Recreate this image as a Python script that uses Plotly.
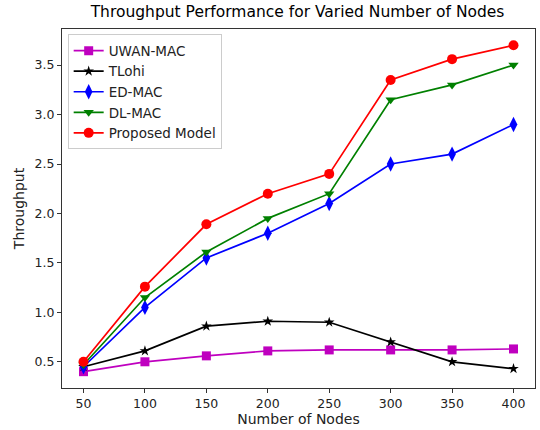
import plotly.graph_objects as go

nodes = [50, 100, 150, 200, 250, 300, 350, 400]
uwan_mac = [0.40, 0.50, 0.56, 0.61, 0.62, 0.62, 0.62, 0.63]
tlohi = [0.45, 0.61, 0.86, 0.91, 0.90, 0.70, 0.50, 0.43]
ed_mac = [0.45, 1.05, 1.55, 1.80, 2.10, 2.50, 2.60, 2.90]
dl_mac = [0.47, 1.15, 1.61, 1.95, 2.20, 3.15, 3.30, 3.50]
proposed = [0.50, 1.26, 1.89, 2.20, 2.40, 3.35, 3.56, 3.70]

series = [
    ("UWAN-MAC", uwan_mac, "#bf00bf", "square", 9),
    ("TLohi", tlohi, "black", "star", 8),
    ("ED-MAC", ed_mac, "blue", "diamond-tall", 11),
    ("DL-MAC", dl_mac, "green", "triangle-down", 9),
    ("Proposed Model", proposed, "red", "circle", 10),
]

fig = go.Figure()
for name, vals, col, sym, sz in series:
    fig.add_trace(go.Scatter(
        x=nodes, y=vals, name=name, mode="lines+markers",
        line=dict(color=col, width=1.7),
        marker=dict(symbol=sym, size=sz, color=col, line=dict(width=0)),
    ))

axfont = dict(family="DejaVu Sans", size=12.5, color="#222222")
titlefont = dict(family="DejaVu Sans", size=14, color="#222222")

fig.update_layout(
    width=540, height=430,
    margin=dict(l=62, r=5, t=29, b=42),
    paper_bgcolor="white", plot_bgcolor="white",
    font=axfont,
    title=dict(text="Throughput Performance for Varied Number of Nodes",
               x=0.551, xanchor="center", y=0.985, yanchor="top",
               font=dict(family="DejaVu Sans", size=15.5, color="black")),
    showlegend=True,
    legend=dict(x=0.012, y=0.985, xanchor="left", yanchor="top",
                bgcolor="rgba(255,255,255,0.8)", bordercolor="#cccccc",
                borderwidth=1, font=dict(family="DejaVu Sans", size=13.5, color="#222222"),
                tracegroupgap=0, itemwidth=30),
    xaxis=dict(range=[32.5, 417.5], tickvals=nodes, showgrid=False, zeroline=False,
               showline=True, linecolor="#333333", linewidth=1, mirror=True,
               ticks="outside", ticklen=4, tickcolor="#333333", tickfont=axfont,
               title=dict(text="Number of Nodes", standoff=3, font=titlefont)),
    yaxis=dict(range=[0.235, 3.865], tickvals=[0.5, 1.0, 1.5, 2.0, 2.5, 3.0, 3.5],
               ticktext=["0.5", "1.0", "1.5", "2.0", "2.5", "3.0", "3.5"],
               showgrid=False, zeroline=False,
               showline=True, linecolor="#333333", linewidth=1, mirror=True,
               ticks="outside", ticklen=4, tickcolor="#333333", tickfont=axfont,
               title=dict(text="Throughput", standoff=6, font=titlefont)),
)

fig.write_html("out.html")
